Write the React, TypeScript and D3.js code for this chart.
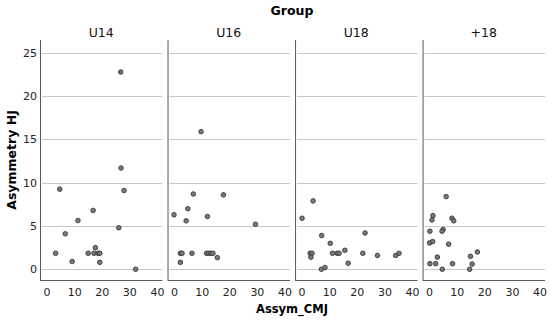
import React, { useEffect, useRef } from 'react'
import * as d3 from 'd3'

// groups shown as facets
const groups = ['U14', 'U16', 'U18', '+18']

// Assym_CMJ (x) and Asymmetry HJ (y) per group
const u14X = [26.7, 26.8, 4.6, 27.9, 16.7, 11.2, 6.6, 26.0, 3.1, 17.5, 14.9, 17.0, 18.5, 19.1, 9.1, 19.1, 32.1]
const u14Y = [22.8, 11.7, 9.26, 9.1, 6.8, 5.63, 4.1, 4.8, 1.85, 2.5, 1.85, 1.85, 1.85, 1.85, 0.9, 0.8, 0]

const u16X = [9.6, 6.8, 17.7, 4.8, -0.2, 11.9, 4.2, 29.3, 2.1, 2.7, 6.3, 11.6, 12.4, 13.1, 13.9, 15.5, 2.1]
const u16Y = [15.9, 8.7, 8.6, 7.0, 6.3, 6.1, 5.6, 5.2, 1.85, 1.85, 1.85, 1.85, 1.85, 1.85, 1.85, 1.35, 0.8]

const u18X = [4.0, 0, 22.8, 7.1, 10.2, 2.9, 3.6, 3.2, 11.0, 12.7, 13.4, 15.5, 22.0, 27.3, 33.9, 35.1, 16.7, 7.0, 8.3]
const u18Y = [7.9, 5.9, 4.2, 3.9, 3.0, 1.85, 1.85, 1.4, 1.85, 1.85, 1.85, 2.2, 1.85, 1.6, 1.6, 1.85, 0.7, 0, 0.2]

const o18X = [6.0, 1.2, 0.85, 8.1, 8.75, 0.1, 4.9, 4.5, 0, 1.1, 6.9, 17.3, 2.8, 14.8, 0.1, 2.2, 8.3, 15.4, 4.6, 14.5]
const o18Y = [8.4, 6.2, 5.7, 5.9, 5.6, 4.4, 4.6, 4.4, 3.05, 3.2, 2.9, 2.0, 1.4, 1.5, 0.65, 0.65, 0.65, 0.6, 0, 0]

const xTicks = [0, 10, 20, 30, 40]
const yTicks = [0, 5, 10, 15, 20, 25]

const seriesX = [u14X, u16X, u18X, o18X]
const seriesY = [u14Y, u16Y, u18Y, o18Y]

const FONT = 'DejaVu Sans, sans-serif'

const App = () => {
  const ref = useRef(null)

  useEffect(() => {
    const svg = d3.select(ref.current)
    svg.selectAll('*').remove()

    const width = 550
    const height = 322
    const top = 40
    const bottom = 280

    const panel = d3.scaleBand().domain(groups).range([40, 545]).paddingInner(0.04)
    const pw = panel.bandwidth()

    const yScale = d3.scaleLinear().domain([-1.24, 26.5]).range([bottom, top])

    // titles
    svg
      .append('text')
      .attr('x', 292)
      .attr('y', 15)
      .attr('text-anchor', 'middle')
      .style('font', `bold 12.5px ${FONT}`)
      .text('Group')

    svg
      .append('text')
      .attr('x', 292)
      .attr('y', 313)
      .attr('text-anchor', 'middle')
      .style('font', `bold 11.5px ${FONT}`)
      .text('Assym_CMJ')

    svg
      .append('text')
      .attr('transform', `translate(16,${(top + bottom) / 2}) rotate(-90)`)
      .attr('text-anchor', 'middle')
      .style('font', `bold 12.5px ${FONT}`)
      .text('Asymmetry HJ')

    // y tick labels
    svg
      .selectAll('.ytick')
      .data(yTicks)
      .enter()
      .append('text')
      .attr('x', 37)
      .attr('y', (d) => yScale(d))
      .attr('dy', '0.35em')
      .attr('text-anchor', 'end')
      .attr('fill', '#222')
      .style('font', `11px ${FONT}`)
      .text((d) => d)

    groups.forEach((g, i) => {
      const x0 = panel(g)
      const xScale = d3.scaleLinear().domain([-2.55, 41.8]).range([x0, x0 + pw])
      const gp = svg.append('g')

      gp.append('text')
        .attr('x', x0 + pw / 2)
        .attr('y', 37)
        .attr('text-anchor', 'middle')
        .attr('fill', '#111')
        .style('font', `12.5px ${FONT}`)
        .text(g)

      gp.selectAll('.grid')
        .data(yTicks)
        .enter()
        .append('line')
        .attr('x1', x0 + 2)
        .attr('x2', x0 + pw)
        .attr('y1', (d) => Math.round(yScale(d)) + 0.5)
        .attr('y2', (d) => Math.round(yScale(d)) + 0.5)
        .attr('stroke', '#c8c8c8')
        .attr('stroke-width', 1)

      gp.append('line')
        .attr('x1', x0 + 0.5)
        .attr('x2', x0 + 0.5)
        .attr('y1', top)
        .attr('y2', bottom)
        .attr('stroke', '#5a5a5a')

      gp.append('line')
        .attr('x1', x0)
        .attr('x2', x0 + pw)
        .attr('y1', bottom + 0.5)
        .attr('y2', bottom + 0.5)
        .attr('stroke', '#5a5a5a')

      gp.selectAll('.xtick')
        .data(xTicks)
        .enter()
        .append('text')
        .attr('x', (d) => xScale(d))
        .attr('y', 296)
        .attr('text-anchor', 'middle')
        .attr('fill', '#222')
        .style('font', `11px ${FONT}`)
        .text((d) => d)

      const pts = seriesX[i].map((x, j) => ({ x, y: seriesY[i][j] }))
      gp.selectAll('circle')
        .data(pts)
        .enter()
        .append('circle')
        .attr('cx', (d) => xScale(d.x))
        .attr('cy', (d) => yScale(d.y))
        .attr('r', 2.3)
        .attr('fill', '#7a7a7a')
        .attr('stroke', '#2a2a2a')
        .attr('stroke-width', 0.8)
    })

    svg.attr('width', width).attr('height', height)
  }, [])

  return <svg ref={ref} style={{ position: 'absolute', left: 0, top: 0 }} />
}

export default App
